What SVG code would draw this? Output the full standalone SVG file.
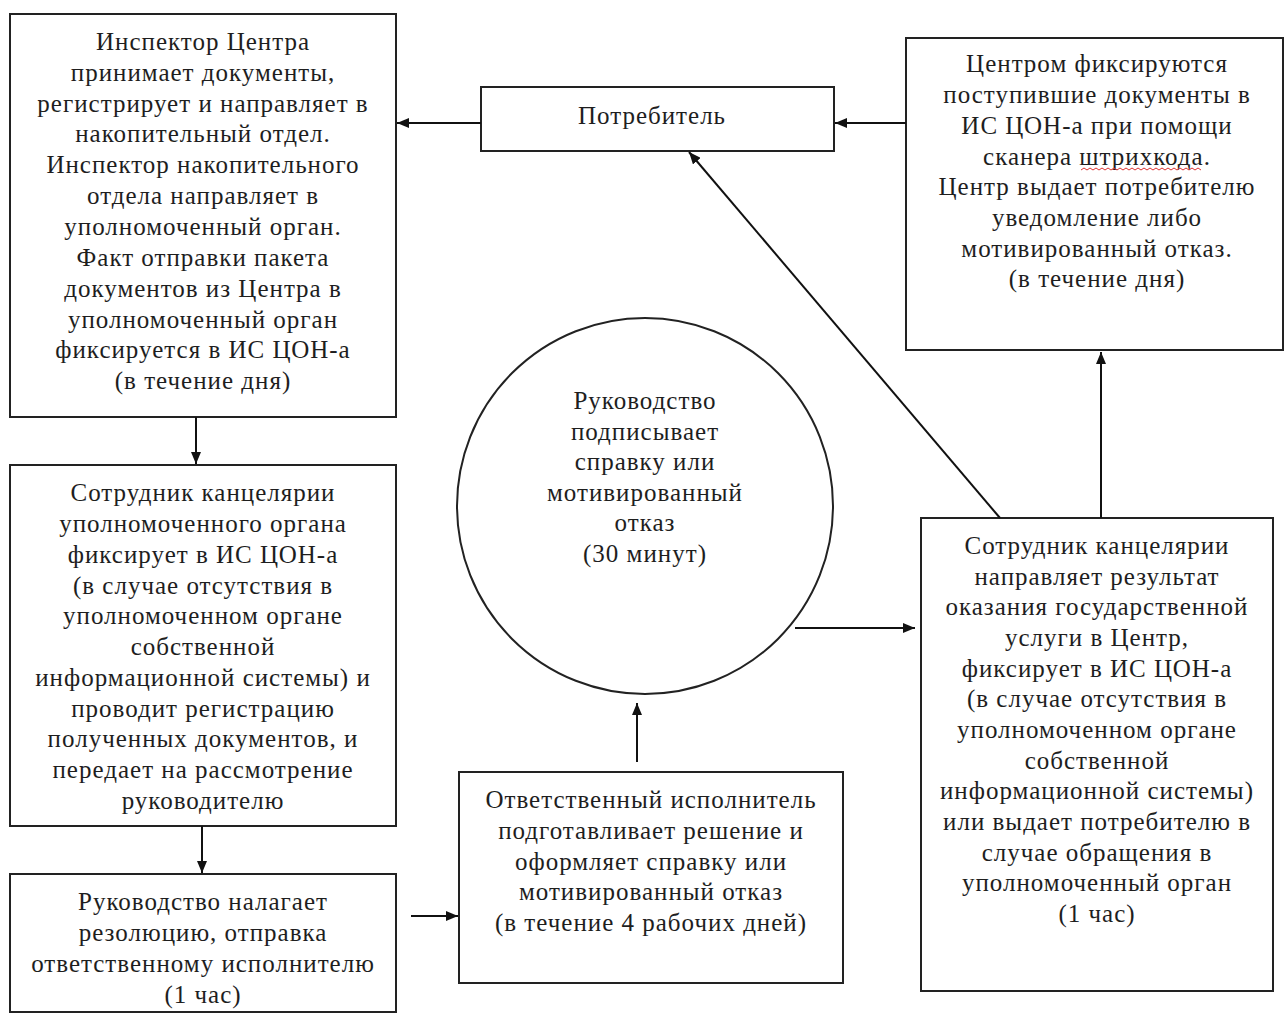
<svg xmlns="http://www.w3.org/2000/svg" width="1285" height="1014" viewBox="0 0 1285 1014">
<defs>
<marker id="ah" viewBox="0 0 12 10" refX="12" refY="5" markerWidth="12" markerHeight="10" markerUnits="userSpaceOnUse" orient="auto">
<path d="M0,0 L12,5 L0,10 z" fill="#111"/>
</marker>
</defs>
<style>
.box{fill:#fff;stroke:#222;stroke-width:2}
.t{font-family:"Liberation Serif","Times New Roman",serif;font-size:25px;letter-spacing:1px;fill:#1e1e1e;text-anchor:middle}
.c{fill:none;stroke:#111;stroke-width:2;marker-end:url(#ah)}
</style>
<rect width="1285" height="1014" fill="#fff"/>
<g id="n1">
<rect class="box" x="10" y="14" width="386" height="403"/>
<text class="t" x="203"><tspan x="203" y="50">Инспектор Центра</tspan><tspan x="203" y="81">принимает документы,</tspan><tspan x="203" y="112">регистрирует и направляет в</tspan><tspan x="203" y="142">накопительный отдел.</tspan><tspan x="203" y="173">Инспектор накопительного</tspan><tspan x="203" y="204">отдела направляет в</tspan><tspan x="203" y="235">уполномоченный орган.</tspan><tspan x="203" y="266">Факт отправки пакета</tspan><tspan x="203" y="297">документов из Центра в</tspan><tspan x="203" y="328">уполномоченный орган</tspan><tspan x="203" y="358">фиксируется в ИС ЦОН-а</tspan><tspan x="203" y="389">(в течение дня)</tspan></text>
</g>
<g id="n2">
<rect class="box" x="481" y="87" width="353" height="64"/>
<text class="t" x="652" y="124">Потребитель</text>
</g>
<g id="n3">
<rect class="box" x="906" y="38" width="377" height="312"/>
<text class="t"><tspan x="1097" y="72">Центром фиксируются</tspan><tspan x="1097" y="103">поступившие документы в</tspan><tspan x="1097" y="134">ИС ЦОН-а при помощи</tspan><tspan x="1097" y="165">сканера штрихкода.</tspan><tspan x="1097" y="195">Центр выдает потребителю</tspan><tspan x="1097" y="226">уведомление либо</tspan><tspan x="1097" y="257">мотивированный отказ.</tspan><tspan x="1097" y="287">(в течение дня)</tspan></text>
<path d="M1081,170 l3,-2 l3,2 l3,-2 l3,2 l3,-2 l3,2 l3,-2 l3,2 l3,-2 l3,2 l3,-2 l3,2 l3,-2 l3,2 l3,-2 l3,2 l3,-2 l3,2 l3,-2 l3,2 l3,-2 l3,2 l3,-2 l3,2 l3,-2 l3,2 l3,-2 l3,2 l3,-2 l3,2 l3,-2 l3,2 l3,-2 l3,2 l3,-2 l3,2 l3,-2 l3,2 l3,-2 l3,2" fill="none" stroke="#d33" stroke-width="1"/>
</g>
<g id="n4">
<rect class="box" x="10" y="465" width="386" height="361"/>
<text class="t"><tspan x="203" y="501">Сотрудник канцелярии</tspan><tspan x="203" y="532">уполномоченного органа</tspan><tspan x="203" y="563">фиксирует в ИС ЦОН-а</tspan><tspan x="203" y="594">(в случае отсутствия в</tspan><tspan x="203" y="624">уполномоченном органе</tspan><tspan x="203" y="655">собственной</tspan><tspan x="203" y="686">информационной системы) и</tspan><tspan x="203" y="717">проводит регистрацию</tspan><tspan x="203" y="747">полученных документов, и</tspan><tspan x="203" y="778">передает на рассмотрение</tspan><tspan x="203" y="809">руководителю</tspan></text>
</g>
<g id="n5">
<rect class="box" x="10" y="874" width="386" height="138"/>
<text class="t"><tspan x="203" y="910">Руководство налагает</tspan><tspan x="203" y="941">резолюцию, отправка</tspan><tspan x="203" y="972">ответственному исполнителю</tspan><tspan x="203" y="1003">(1 час)</tspan></text>
</g>
<g id="n6">
<circle class="box" cx="645" cy="506" r="188"/>
<text class="t"><tspan x="645" y="409">Руководство</tspan><tspan x="645" y="440">подписывает</tspan><tspan x="645" y="470">справку или</tspan><tspan x="645" y="501">мотивированный</tspan><tspan x="645" y="531">отказ</tspan><tspan x="645" y="562">(30 минут)</tspan></text>
</g>
<g id="n7">
<rect class="box" x="459" y="772" width="384" height="211"/>
<text class="t"><tspan x="651" y="808">Ответственный исполнитель</tspan><tspan x="651" y="839">подготавливает решение и</tspan><tspan x="651" y="870">оформляет справку или</tspan><tspan x="651" y="900">мотивированный отказ</tspan><tspan x="651" y="931">(в течение 4 рабочих дней)</tspan></text>
</g>
<g id="n8">
<rect class="box" x="921" y="518" width="352" height="473"/>
<text class="t"><tspan x="1097" y="554">Сотрудник канцелярии</tspan><tspan x="1097" y="585">направляет результат</tspan><tspan x="1097" y="615">оказания государственной</tspan><tspan x="1097" y="646">услуги в Центр,</tspan><tspan x="1097" y="677">фиксирует в ИС ЦОН-а</tspan><tspan x="1097" y="707">(в случае отсутствия в</tspan><tspan x="1097" y="738">уполномоченном органе</tspan><tspan x="1097" y="769">собственной</tspan><tspan x="1097" y="799">информационной системы)</tspan><tspan x="1097" y="830">или выдает потребителю в</tspan><tspan x="1097" y="861">случае обращения в</tspan><tspan x="1097" y="891">уполномоченный орган</tspan><tspan x="1097" y="922">(1 час)</tspan></text>
</g>
<g id="connectors">
<line class="c" x1="481" y1="123" x2="397" y2="123"/>
<line class="c" x1="906" y1="123" x2="835" y2="123"/>
<line class="c" x1="196" y1="417" x2="196" y2="464"/>
<line class="c" x1="202" y1="826" x2="202" y2="873"/>
<line class="c" x1="411" y1="916" x2="458" y2="916"/>
<line class="c" x1="637" y1="762" x2="637" y2="703"/>
<line class="c" x1="795" y1="628" x2="915" y2="628"/>
<line class="c" x1="1000" y1="518" x2="689" y2="152"/>
<line class="c" x1="1101" y1="518" x2="1101" y2="352"/>
</g>
</svg>
